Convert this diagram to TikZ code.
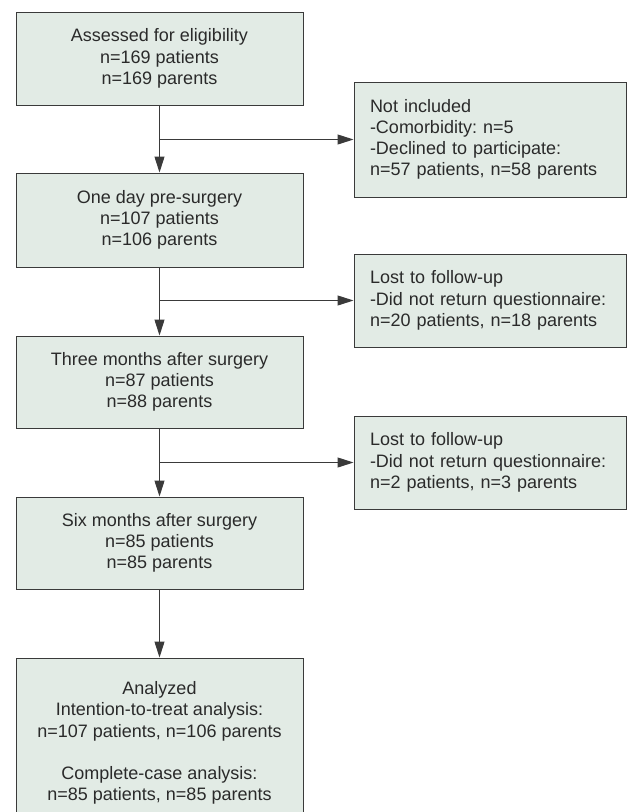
\documentclass[tikz,border=0pt]{standalone}
\usepackage{fontspec}
\setmainfont{Liberation Sans}
\usetikzlibrary{arrows.meta}
\definecolor{boxfill}{HTML}{E2EBE5}
\definecolor{boxline}{HTML}{3A3A3A}
\definecolor{txt}{HTML}{2A2A2A}
\tikzset{
  mainbox/.style={draw=boxline, fill=boxfill, line width=1pt, minimum width=287pt,
    inner sep=0pt, align=center, font=\frenchspacing\fontsize{18}{21.2}\selectfont, text=txt},
  sidebox/.style={draw=boxline, fill=boxfill, line width=1pt, text width=240pt,
    inner xsep=16pt, inner ysep=0pt, align=left, font=\frenchspacing\fontsize{18}{21.2}\selectfont, text=txt},
  flow/.style={draw=boxline, line width=1pt, -{Triangle[length=16pt,width=10pt]}}
}
\begin{document}
\begin{tikzpicture}[x=1pt,y=-1pt]
\useasboundingbox (0,0) rectangle (628,812);
\node[mainbox, minimum height=93pt] (b1) at (159.5,58.5) {Assessed for eligibility\\n=169 patients\\n=169 parents};
\node[mainbox, minimum height=94pt] (b2) at (159.5,220) {One day pre-surgery\\n=107 patients\\n=106 parents};
\node[mainbox, minimum height=92pt] (b3) at (159.5,382) {Three months after surgery\\n=87 patients\\n=88 parents};
\node[mainbox, minimum height=92pt] (b4) at (159.5,543) {Six months after surgery\\n=85 patients\\n=85 parents};
\node[mainbox, minimum height=170pt] (b5) at (159.5,743) {Analyzed\\Intention-to-treat analysis:\\n=107 patients, n=106 parents\\[21.2pt]Complete-case analysis:\\n=85 patients, n=85 parents};

\node[sidebox, minimum height=115pt] (r1) at (490,139.5) {Not included\\-Comorbidity: n=5\\-Declined to participate:\\n=57 patients, n=58 parents};
\node[sidebox, minimum height=93pt] (r2) at (490,300.5) {Lost to follow-up\\\mbox{-Did not return questionnaire:}\\n=20 patients, n=18 parents};
\node[sidebox, minimum height=93pt] (r3) at (490,462.5) {Lost to follow-up\\\mbox{-Did not return questionnaire:}\\n=2 patients, n=3 parents};

\coordinate (j1) at (b1.south |- r1.west);
\coordinate (j2) at (b2.south |- r2.west);
\coordinate (j3) at (b3.south |- r3.west);

\draw[flow] (b1.south) -- (b2.north);
\draw[flow] (b2.south) -- (b3.north);
\draw[flow] (b3.south) -- (b4.north);
\draw[flow] (b4.south) -- (b5.north);
\draw[flow] (j1) -- (r1.west);
\draw[flow] (j2) -- (r2.west);
\draw[flow] (j3) -- (r3.west);
\end{tikzpicture}
\end{document}
